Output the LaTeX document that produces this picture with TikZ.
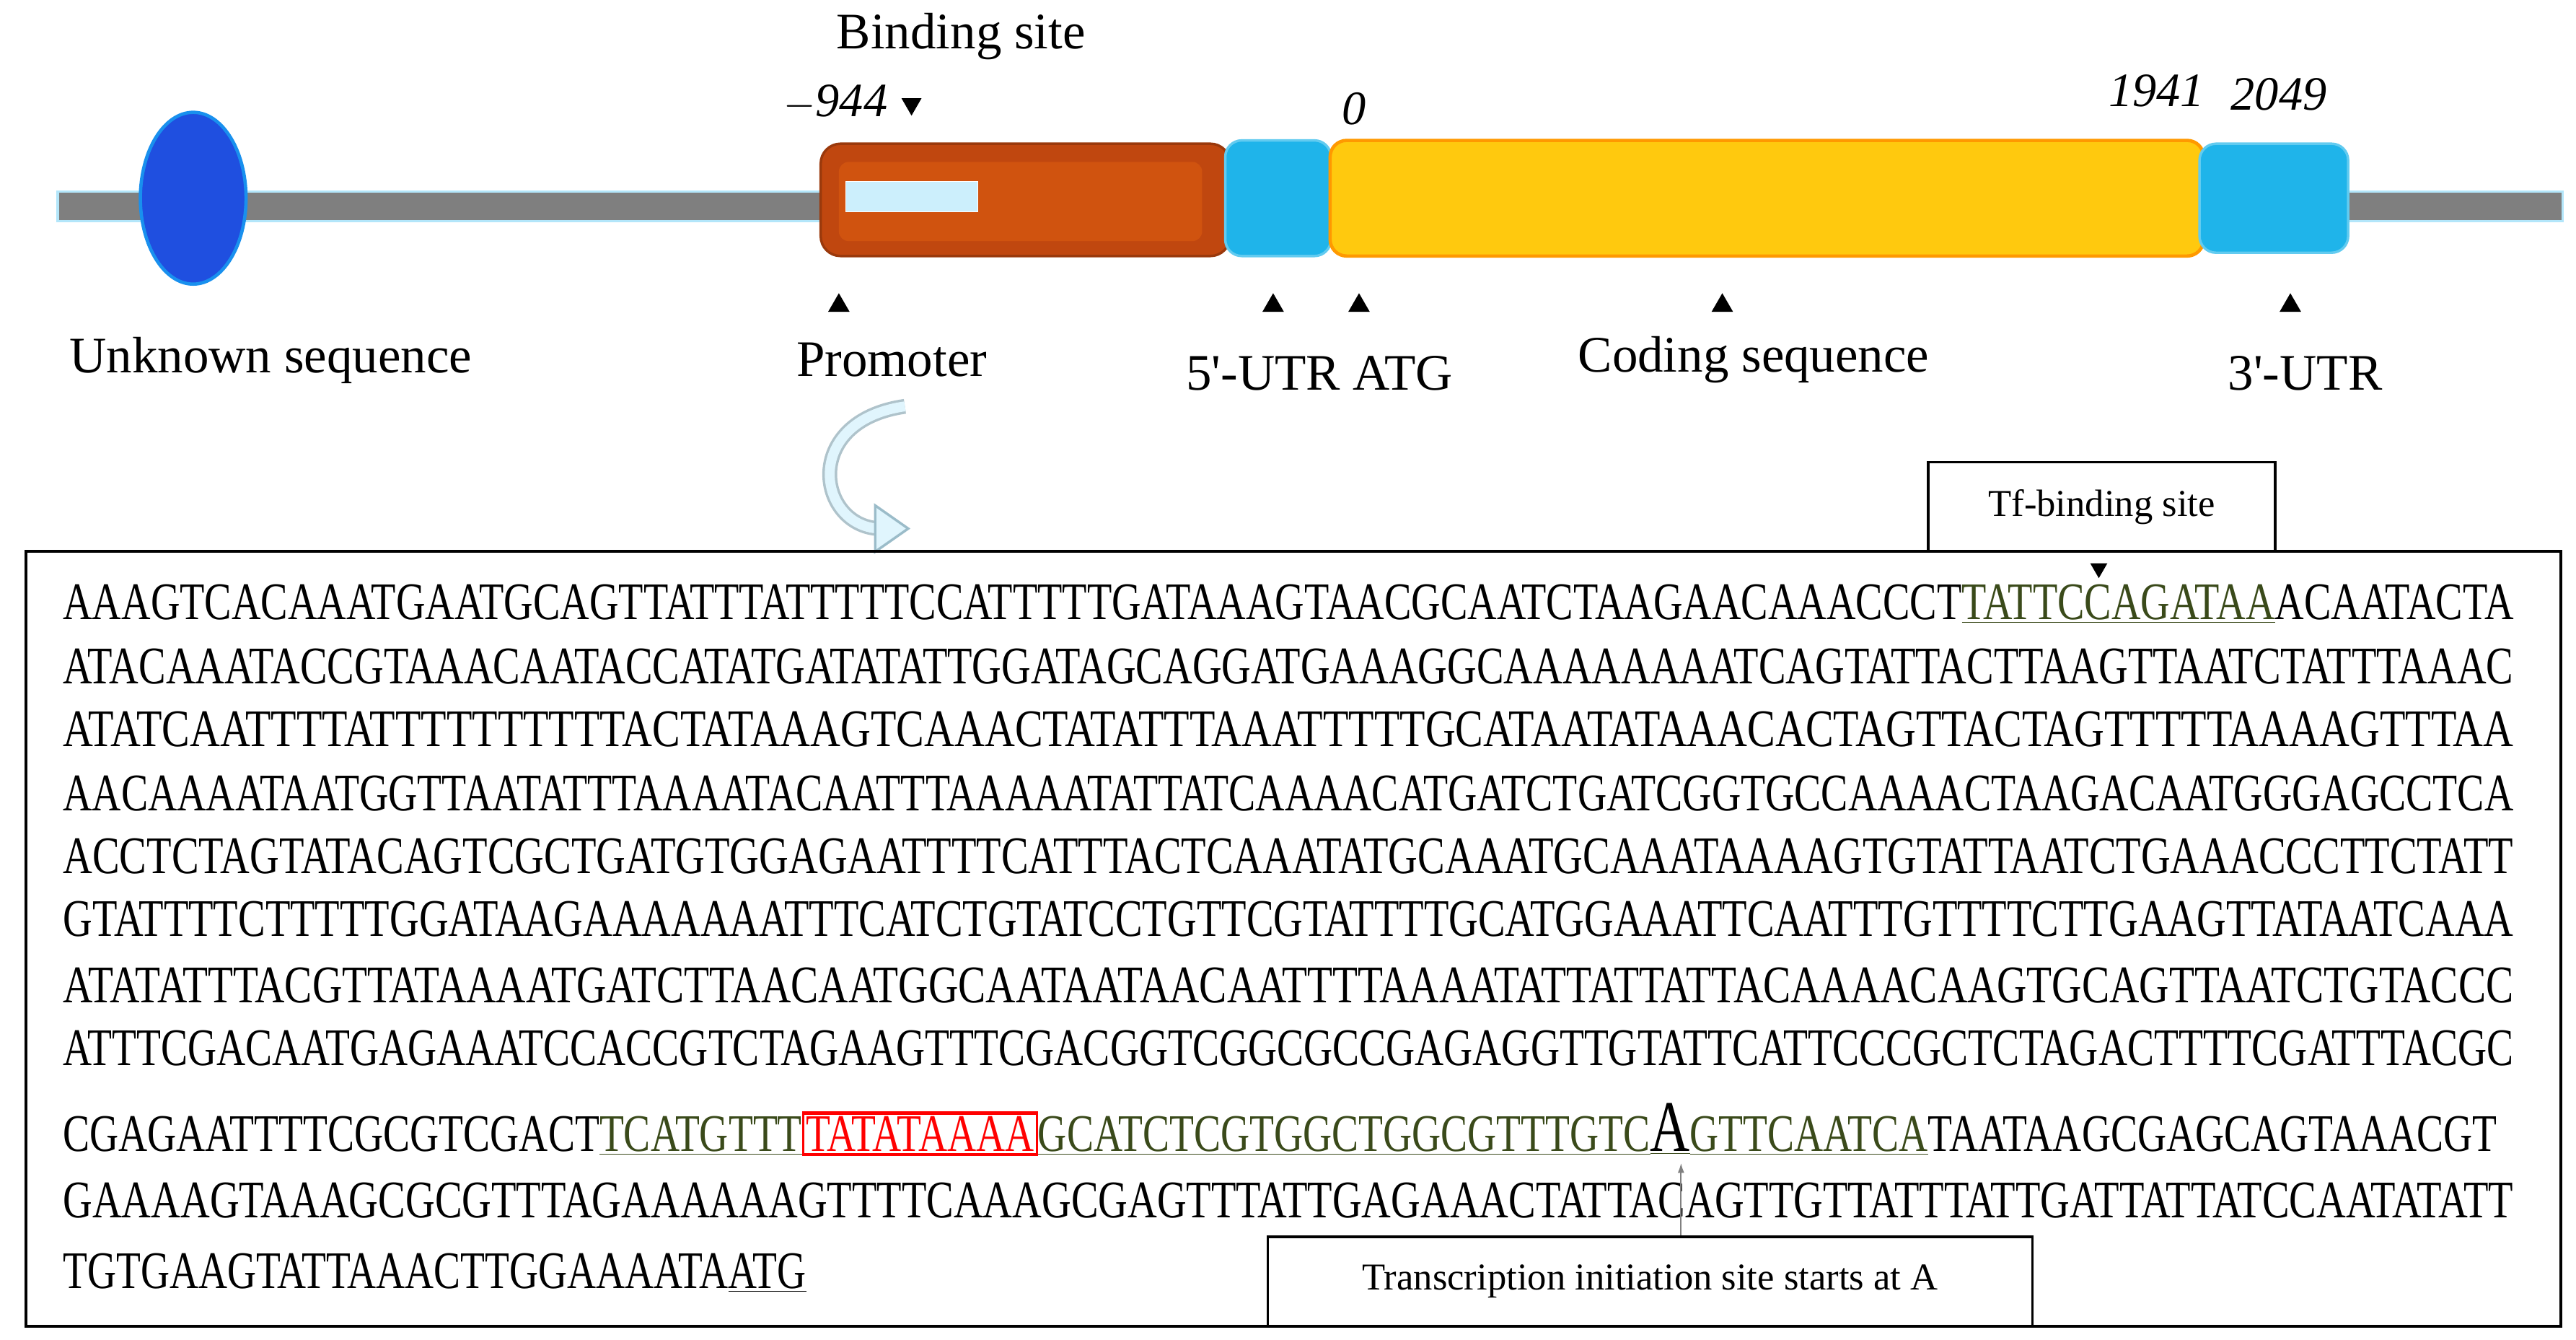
\documentclass[tikz,border=0pt]{standalone}
\usepackage{fontspec}
\setmainfont{Liberation Serif}
\usetikzlibrary{shapes.geometric,arrows.meta}
\definecolor{barg}{HTML}{7F7F7F}
\definecolor{prom}{HTML}{C0470F}
\definecolor{promin}{HTML}{D0530F}
\definecolor{utr}{HTML}{1FB4EA}
\definecolor{cds}{HTML}{FFC90E}
\definecolor{olv}{HTML}{3A4A1A}
\definecolor{ell}{HTML}{1F4FE0}
\newcommand\gul[1]{\textcolor{olv}{\underline{#1}}}
\newcommand\rbx[1]{{\setlength\fboxsep{1pt}\setlength\fboxrule{2pt}\fcolorbox{red}{white}{\textcolor{red}{#1}}}}
\begin{document}
\begin{tikzpicture}[x=1pt,y=-1pt,
  lab/.style={font=\fontsize{31}{34}\selectfont, inner sep=0},
  num/.style={font=\fontsize{29}{30}\selectfont\itshape, inner sep=0},
  tri/.style={regular polygon, regular polygon sides=3, fill=black, inner sep=0, minimum size=15},
  seq/.style={anchor=base west, inner sep=0, font=\fontsize{32}{34}\selectfont},
  box/.style={draw=black, line width=1.6pt}]
\useasboundingbox (0,0) rectangle (1560,811);
% backbone
\draw[draw=cyan!30, fill=barg, line width=1.5pt] (35,116) rectangle (1552,134);
\node[ellipse, fill=ell, draw=utr!80!blue, line width=2pt, minimum width=64, minimum height=104, inner sep=0] (unk) at (117,120) {};
\node[draw=prom!80!black, fill=prom, rounded corners=12, minimum width=248, minimum height=68, inner sep=0, line width=1.5pt] (pro) at (621,121) {};
\fill[promin, rounded corners=6] (508,98) rectangle (728,146);
\node[fill=cyan!20, draw=white, minimum width=80, minimum height=18, inner sep=0] (bs) at (552,119) {};
\node[fill=utr, draw=utr!70!white, rounded corners=10, minimum width=64, minimum height=70, inner sep=0, line width=1.5pt] (u5) at (774,120) {};
\node[fill=cds, draw=orange!80!yellow, rounded corners=10, minimum width=529, minimum height=70, inner sep=0, line width=2pt] (cd) at (1070,120) {};
\node[fill=utr, draw=utr!70!white, rounded corners=10, minimum width=90, minimum height=66, inner sep=0, line width=1.5pt] (u3) at (1377,120) {};
% top labels
\node[lab] (bst) at (582,22) {Binding site};
\node[num] (n944) at (506,62) {$-$944};
\node[tri, shape border rotate=180, minimum size=14] (tbs) at (552,63) {};
\node[num] (n0) at (820,66) {0};
\node[num] (n1941) at (1306,55) {1941};
\node[num] (n2049) at (1380,57) {2049};
% arrows below
\foreach \x/\n in {508/a,771/b,823/c,1043/d,1387/e}{\node[tri] (t\n) at (\x,185) {};}
\node[lab] (lunk) at (164,218) {Unknown sequence};
\node[lab] (lpro) at (540,218) {Promoter};
\node[lab] (l5) at (799,226) {5\textquotesingle-UTR ATG};
\node[lab] (lcd) at (1062,218) {Coding sequence};
\node[lab] (l3) at (1396,226) {3\textquotesingle-UTR};
% curved arrow
\coordinate (ca) at (548,246);
\coordinate (cb) at (548,320);
\draw[line width=9pt, draw=cyan!25!gray!60] (ca) .. controls (485,255) and (495,318) .. (532,320);
\draw[line width=6pt, draw=cyan!12] (ca) .. controls (485,255) and (495,318) .. (532,320);
\fill[cyan!12, draw=cyan!35!gray!70, line width=1.5pt] (530,306) -- (550,320) -- (530,334) -- cycle;
% main box
\node[box, minimum width=1535, minimum height=469, inner sep=0, anchor=north west] (main) at (15,333) {};
\node[box, fill=white, minimum width=210, minimum height=54, inner sep=0, anchor=north west, font=\fontsize{23}{24}\selectfont] (tf) at (1167,279) {Tf-binding site};
\node[tri, shape border rotate=180, minimum size=12] (ttf) at (1271,344) {};
% sequence
\node[seq] (r1) at (38,375) {\resizebox{1484pt}{\height}{AAAGTCACAAATGAATGCAGTTATTTATTTTTCCATTTTTGATAAAGTAACGCAATCTAAGAACAAACCCT\gul{TATTCCAGATAA}ACAATACTA}};
\node[seq] (r2) at (38,414) {\resizebox{1484pt}{\height}{ATACAAATACCGTAAACAATACCATATGATATATTGGATAGCAGGATGAAAGGCAAAAAAAATCAGTATTACTTAAGTTAATCTATTTAAAC}};
\node[seq] (r3) at (38,452) {\resizebox{1484pt}{\height}{ATATCAATTTTATTTTTTTTTTACTATAAAGTCAAACTATATTTAAATTTTTGCATAATATAAACACTAGTTACTAGTTTTTAAAAGTTTAA}};
\node[seq] (r4) at (38,491) {\resizebox{1484pt}{\height}{AACAAAATAATGGTTAATATTTAAAATACAATTTAAAAATATTATCAAAACATGATCTGATCGGTGCCAAAACTAAGACAATGGGAGCCTCA}};
\node[seq] (r5) at (38,529) {\resizebox{1484pt}{\height}{ACCTCTAGTATACAGTCGCTGATGTGGAGAATTTTCATTTACTCAAATATGCAAATGCAAATAAAAGTGTATTAATCTGAAACCCTTCTATT}};
\node[seq] (r6) at (38,567) {\resizebox{1484pt}{\height}{GTATTTTCTTTTTGGATAAGAAAAAAATTTCATCTGTATCCTGTTCGTATTTTGCATGGAAATTCAATTTGTTTTCTTGAAGTTATAATCAAA}};
\node[seq] (r7) at (38,607) {\resizebox{1484pt}{\height}{ATATATTTACGTTATAAAATGATCTTAACAATGGCAATAATAACAATTTTAAAATATTATTATTACAAAACAAGTGCAGTTAATCTGTACCC}};
\node[seq] (r8) at (38,645) {\resizebox{1484pt}{\height}{ATTTCGACAATGAGAAATCCACCGTCTAGAAGTTTCGACGGTCGGCGCCGAGAGGTTGTATTCATTCCCGCTCTAGACTTTTCGATTTACGC}};
\node[seq] (r9) at (38,697) {\resizebox{1474pt}{\height}{CGAGAATTTTCGCGTCGACT\gul{TCATGTTT}\rbx{TATATAAAA}\gul{GCATCTCGTGGCTGGCGTTTGTC}\textcolor{olv}{\underline{{\fontsize{44}{44}\selectfont\color{black}A}}}\gul{GTTCAATCA}TAATAAGCGAGCAGTAAACGT}};
\node[seq] (r10) at (38,737) {\resizebox{1484pt}{\height}{GAAAAGTAAAGCGCGTTTAGAAAAAAGTTTTCAAAGCGAGTTTATTGAGAAACTATTACAGTTGTTATTTATTGATTATTATCCAATATATT}};
\node[seq] (r11) at (38,780) {\resizebox{450pt}{\height}{TGTGAAGTATTAAACTTGGAAAATA\underline{ATG}}};
% TSS box
\node[box, fill=white, minimum width=463, minimum height=54, inner sep=0, anchor=north west, font=\fontsize{23}{24}\selectfont] (tss) at (767,748) {Transcription initiation site starts at A};
\coordinate (tsa) at (1018,704);
\draw[gray, line width=1pt, -{Latex[length=6pt,width=4pt]}] (tss.north -| tsa) -- (tsa);
\end{tikzpicture}
\end{document}
